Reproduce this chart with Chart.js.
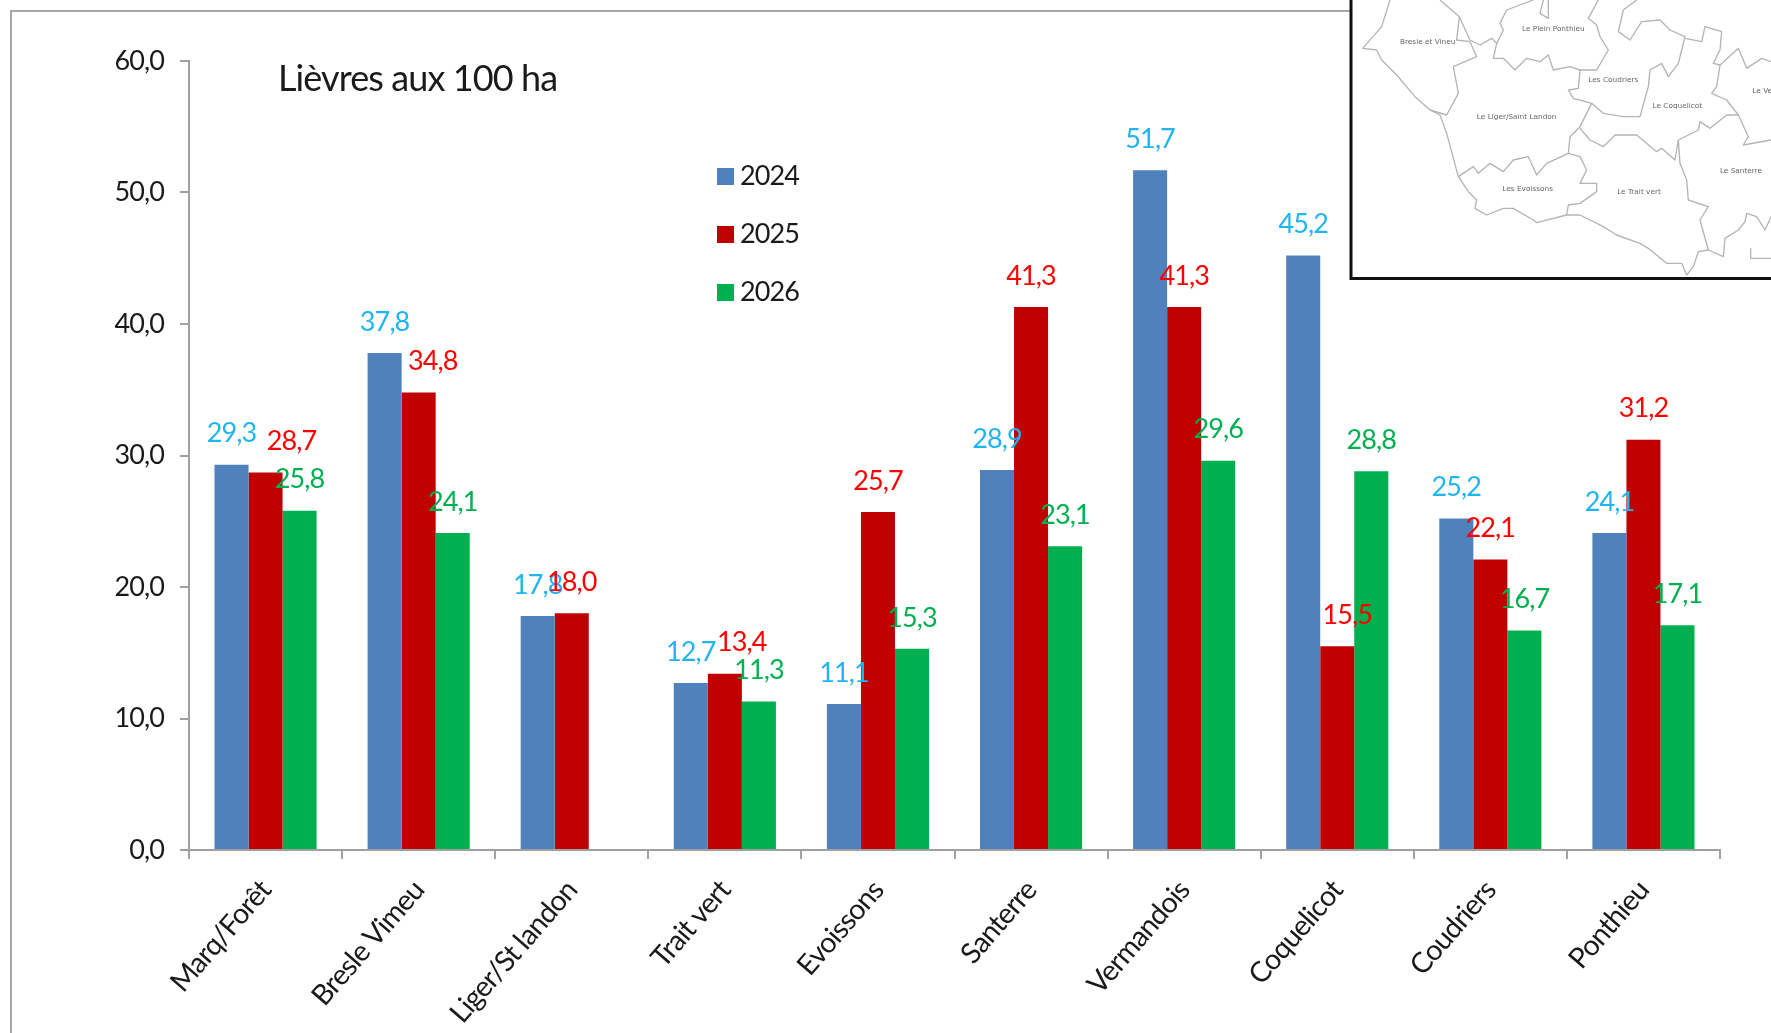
<!DOCTYPE html>
<html><head><meta charset="utf-8">
<style>html,body{margin:0;padding:0;background:#fff;overflow:hidden}canvas{display:block;filter:blur(0.5px)}</style>
<script src="https://cdn.jsdelivr.net/npm/chart.js@4"></script></head>
<body><canvas id="c" width="1771" height="1033"></canvas>
<script>
const chartTitle = 'Lièvres aux 100 ha';
const categories = ['Marq/Forêt','Bresle Vimeu','Liger/St landon','Trait vert','Evoissons','Santerre','Vermandois','Coquelicot','Coudriers','Ponthieu'];
const seriesNames = ['2024','2025','2026'];
const values2024 = [29.3,37.8,17.8,12.7,11.1,28.9,51.7,45.2,25.2,24.1];
const values2025 = [28.7,34.8,18.0,13.4,25.7,41.3,41.3,15.5,22.1,31.2];
const values2026 = [25.8,24.1,null,11.3,15.3,23.1,29.6,28.8,16.7,17.1];
const barColors = ['#4F81BD','#C00000','#00B050'];
const labelColors = ['#1FB4F2','#FF0000','#00B050'];
// horizontal nudges of the few data labels moved aside in the original
const labelShift2025 = [26,14,0,17,0,0,0,10,0,0];
const fontName = 'Lato';
const fr = v => v.toFixed(1).replace('.',',');

const mapLabels = [['Bresle et Vineu',263,125],['Le Plein Ponthieu',640,87],['Les Coudriers',820,241],['Le Coquelicot',1012,318],['Le Liger/Saint Landon',530,351],['Les Evoissons',563,567],['Le Trait vert',897,577],['Le Santerre',1203,512],['Le Vermandois',1318,272]];
const mapLines = [
[150,0,125,80,68,145,110,150,125,180,170,225,225,290,270,330,300,345,320,400,355,530,385,575,410,600,405,625,440,645,490,625,520,625,580,660,590,668,680,645,720,645,790,680,830,705,900,730,925,745,980,790,1025,790,1040,825,1060,800,1075,755,1105,750,1150,770,1155,715,1195,690,1215,665,1220,640,1250,650,1275,690,1293,650],
[300,0,358,50,350,120,390,125,410,170,340,200,355,280,320,345,270,330],
[358,50,390,120,420,135,455,115,470,130,460,175,490,175,525,210,560,175,600,185,625,165,640,210,690,200,720,210,770,210,805,150,780,110,770,75,745,55,775,0],
[470,130,490,90,480,70,500,30,580,0],[610,0,600,40,625,55,625,0],
[720,210,715,265,685,270,700,295,755,310,790,340,850,350,900,350,925,260,930,210,965,190,985,230,1015,190,1030,130,1035,110,990,90,960,60,905,65,870,120,835,95,850,30,890,0],
[1035,115,1085,125,1095,80,1145,95,1140,150,1120,190,1140,195,1195,145,1220,205,1265,175,1293,185],
[1140,195,1130,260,1115,280,1160,300,1195,345,1225,410,1210,435,1293,420],
[1195,345,1160,345,1110,385,1080,365,1075,390,1015,420,1020,490,1040,540,1045,600,1105,620,1080,660,1105,750],
[755,310,720,380,690,410,685,460,620,490,590,525,565,470,520,480,490,515,450,490,415,520,400,500,355,530],
[720,385,750,420,790,440,825,405,890,405,950,455,965,445,1005,480,1015,420],
[685,460,720,470,740,510,720,550,770,550,770,575,720,610,685,615,680,645],
[1232,745,1232,775,1293,775]];

const decor = {
  id:'decor',
  beforeDraw(ch){
    const c=ch.ctx;
    c.letterSpacing='-0.9px';
    c.save();
    c.strokeStyle='#a6a6a6'; c.lineWidth=2;
    c.beginPath(); c.moveTo(11,1033); c.lineTo(11,11); c.lineTo(1352,11); c.stroke();
    c.restore();
  },
  afterDraw(ch){
    const c=ch.ctx;
    ch.data.datasets.forEach((ds,i)=>{
      const meta=ch.getDatasetMeta(i);
      c.save(); c.font='27px '+fontName; c.fillStyle=labelColors[i]; c.textAlign='center'; c.textBaseline='middle';
      meta.data.forEach((el,j)=>{
        const v=ds.data[j]; if(v==null) return;
        const dx=i===1?labelShift2025[j]:0;
        c.fillText(fr(v),el.x+dx,el.y-31);
      });
      c.restore();
    });
    c.save(); c.font='36px '+fontName; c.fillStyle='#1a1a1a'; c.textBaseline='middle'; c.textAlign='left';
    c.fillText(chartTitle,278,79); c.restore();
    c.save(); c.font='27px '+fontName; c.textBaseline='middle'; c.textAlign='left';
    ch.data.datasets.forEach((ds,i)=>{
      const y=176+i*58;
      c.fillStyle=ds.backgroundColor; c.fillRect(717,y-8,17,17);
      c.fillStyle='#1a1a1a'; c.fillText(ds.label,740,y+0.5);
    });
    c.restore();
    c.save();
    c.letterSpacing='0px';
    c.fillStyle='#fff'; c.fillRect(1350,0,421,279);
    c.beginPath(); c.rect(1351,0,420,278); c.clip();
    c.translate(1340,0); c.scale(1/3,1/3);
    c.strokeStyle='#b4b4b4'; c.lineWidth=4; c.lineJoin='round';
    mapLines.forEach(p=>{c.beginPath();c.moveTo(p[0],p[1]);for(let k=2;k<p.length;k+=2)c.lineTo(p[k],p[k+1]);c.stroke();});
    c.fillStyle='#666'; c.font='22px "DejaVu Sans"'; c.textAlign='center'; c.textBaseline='middle';
    mapLabels.forEach(l=>c.fillText(l[0],l[1],l[2]));
    c.restore();
    c.save(); c.strokeStyle='#111'; c.lineWidth=3;
    c.beginPath(); c.moveTo(1351,0); c.lineTo(1351,278.5); c.lineTo(1771,278.5); c.stroke(); c.restore();
  }
};

new Chart(document.getElementById('c'),{
  type:'bar',
  data:{labels:categories,datasets:[values2024,values2025,values2026].map((d,i)=>({label:seriesNames[i],data:d,backgroundColor:barColors[i],borderWidth:0}))},
  plugins:[decor],
  options:{
    responsive:false,animation:false,
    layout:{padding:{top:61,right:51,left:0,bottom:0}},
    datasets:{bar:{categoryPercentage:0.667,barPercentage:1}},
    plugins:{legend:{display:false},title:{display:false},tooltip:{enabled:false}},
    scales:{
      x:{
        afterFit:s=>{s.height=183},
        grid:{drawOnChartArea:false,color:'#a0a0a0',tickLength:9,lineWidth:2},
        border:{color:'#a0a0a0',width:2},
        ticks:{minRotation:49,maxRotation:49,color:'#1a1a1a',font:{family:fontName,size:28.5},padding:15,autoSkip:false}
      },
      y:{
        min:0,max:60,
        afterFit:s=>{s.width=189},
        grid:{drawOnChartArea:false,color:'#a0a0a0',tickLength:9,lineWidth:2},
        border:{color:'#a0a0a0',width:2},
        ticks:{stepSize:10,color:'#1a1a1a',font:{family:fontName,size:27},padding:16,callback:v=>fr(v)}
      }
    }
  }
});
</script></body></html>
